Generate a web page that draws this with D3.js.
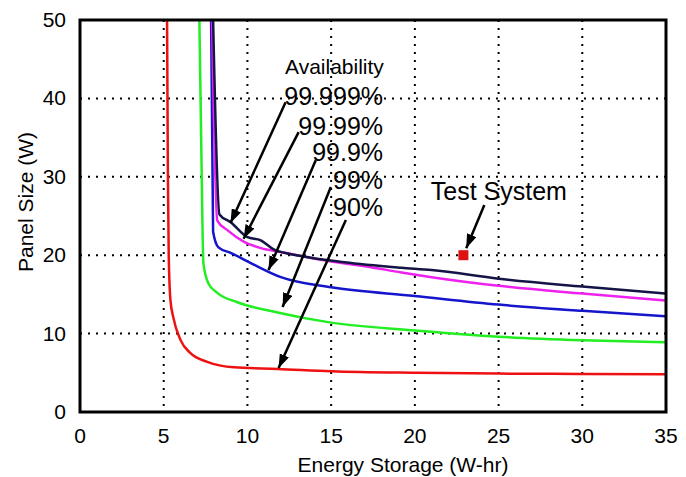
<!DOCTYPE html>
<html>
<head>
<meta charset="utf-8">
<script src="https://cdn.jsdelivr.net/npm/d3@7"></script>
<style>
  body { margin: 0; background: #fff; }
  text { font-family: "Liberation Sans", Arial, sans-serif; fill: #000; }
</style>
</head>
<body>
<svg width="686" height="477"></svg>
<script>
// axis ticks
var xTicks = [0, 5, 10, 15, 20, 25, 30, 35];
var yTicks = [0, 10, 20, 30, 40, 50];

// availability curves (energy storage W-hr, panel size W)
var x90 = [5.2, 5.25, 5.3, 5.4, 5.57, 6.0, 6.6, 7.6, 9.2, 11.8, 15, 20, 25, 30, 35];
var y90 = [50, 30, 20, 14.3, 12.1, 9.2, 7.5, 6.4, 5.7, 5.5, 5.2, 5.0, 4.9, 4.85, 4.8];

var x99 = [7.13, 7.25, 7.37, 7.67, 8.2, 9.4, 11.8, 15, 20, 25, 30, 35];
var y99 = [50, 33, 19, 16.4, 15.2, 14.0, 12.7, 11.4, 10.4, 9.6, 9.15, 8.9];

var x999 = [7.83, 7.95, 8.27, 9.0, 10.2, 12, 15, 20, 25, 30, 35];
var y999 = [50, 23, 21.0, 20.3, 19.0, 17.2, 15.9, 14.8, 13.7, 12.9, 12.2];

var x9999 = [7.89, 8.2, 8.8, 9.8, 10.8, 12, 15, 17, 19.2, 21, 25, 30, 35];
var y9999 = [50, 24.4, 23.2, 21.7, 20.9, 20.4, 19.2, 18.6, 17.8, 17.2, 16.1, 15.1, 14.2];

var x99999 = [7.95, 8.33, 9.0, 10.0, 10.8, 11.6, 13.2, 15.8, 19.2, 21, 25, 30, 35];
var y99999 = [50, 25.2, 24.2, 22.3, 21.9, 20.7, 19.9, 19.1, 18.4, 18.1, 17.0, 16.0, 15.1];

var seriesLabels = ['99.999%', '99.99%', '99.9%', '99%', '90%'];
var seriesColors = ['#141446', '#ee22ee', '#1515cc', '#22ee22', '#ee1111'];

// test system point
var testX = 22.9;
var testY = 20;

var width = 686;
var height = 477;
var margin = { top: 20, right: 20, bottom: 65, left: 80 };

var svg = d3.select('svg');

var x = d3.scaleLinear()
	.domain([0, 35])
	.range([margin.left, width - margin.right]);

var y = d3.scaleLinear()
	.domain([0, 50])
	.range([height - margin.bottom, margin.top]);

// dotted grid
svg.append('g')
	.selectAll('line')
	.data(xTicks.slice(1, -1))
	.join('line')
	.attr('x1', d => x(d)).attr('x2', d => x(d))
	.attr('y1', y(50)).attr('y2', y(0))
	.attr('stroke', '#000')
	.attr('stroke-width', 2)
	.attr('stroke-dasharray', '2,6');

svg.append('g')
	.selectAll('line')
	.data(yTicks.slice(1, -1))
	.join('line')
	.attr('x1', x(0)).attr('x2', x(35))
	.attr('y1', d => y(d)).attr('y2', d => y(d))
	.attr('stroke', '#000')
	.attr('stroke-width', 2)
	.attr('stroke-dasharray', '2,6');

// tick labels
svg.append('g')
	.selectAll('text')
	.data(xTicks)
	.join('text')
	.attr('x', d => x(d))
	.attr('y', y(0) + 31)
	.attr('text-anchor', 'middle')
	.style('font-size', '21px')
	.text(d => d);

svg.append('g')
	.selectAll('text')
	.data(yTicks)
	.join('text')
	.attr('x', x(0) - 14)
	.attr('y', d => y(d) + 7)
	.attr('text-anchor', 'end')
	.style('font-size', '21px')
	.text(d => d);

// axis titles
svg.append('text')
	.attr('x', 403)
	.attr('y', 472)
	.attr('text-anchor', 'middle')
	.style('font-size', '21px')
	.text('Energy Storage (W-hr)');

svg.append('text')
	.attr('transform', 'translate(33,202) rotate(-90)')
	.attr('text-anchor', 'middle')
	.style('font-size', '21px')
	.text('Panel Size (W)');

// curves
var line = d3.line()
	.x(d => x(d[0]))
	.y(d => y(d[1]))
	.curve(d3.curveMonotoneX);

var series = [
	d3.zip(x90, y90),
	d3.zip(x99, y99),
	d3.zip(x999, y999),
	d3.zip(x9999, y9999),
	d3.zip(x99999, y99999)
];
var order = [4, 3, 2, 1, 0];

svg.append('clipPath').attr('id', 'plot')
	.append('rect')
	.attr('x', x(0)).attr('y', y(50))
	.attr('width', x(35) - x(0)).attr('height', y(0) - y(50));

svg.append('g')
	.attr('clip-path', 'url(#plot)')
	.selectAll('path')
	.data(series)
	.join('path')
	.attr('d', line)
	.attr('fill', 'none')
	.attr('stroke', (d, i) => seriesColors[order[i]])
	.attr('stroke-width', 2.5);

// frame
svg.append('rect')
	.attr('x', x(0)).attr('y', y(50))
	.attr('width', x(35) - x(0)).attr('height', y(0) - y(50))
	.attr('fill', 'none')
	.attr('stroke', '#000')
	.attr('stroke-width', 3);

// test system marker
svg.append('rect')
	.attr('x', x(testX) - 5).attr('y', y(testY) - 5)
	.attr('width', 10).attr('height', 10)
	.attr('fill', '#dd1111');

// arrows
svg.append('defs').append('marker')
	.attr('id', 'head')
	.attr('viewBox', '0 0 14 10')
	.attr('refX', 14).attr('refY', 5)
	.attr('markerWidth', 14).attr('markerHeight', 10)
	.attr('markerUnits', 'userSpaceOnUse')
	.attr('orient', 'auto')
	.append('path')
	.attr('d', 'M0,0L14,5L0,10Z')
	.attr('fill', '#000');

var arrowFrom = [[12.28, 39.5], [13.06, 35.7], [14.08, 32.1], [14.98, 28.7], [15.88, 24.5], [24.15, 26.4]];
var arrowTo = [[8.99, 24.1], [9.77, 22.1], [11.26, 18.1], [12.1, 13.4], [11.86, 5.6], [23.07, 20.9]];

svg.append('g')
	.selectAll('line')
	.data(d3.zip(arrowFrom, arrowTo))
	.join('line')
	.attr('x1', d => x(d[0][0])).attr('y1', d => y(d[0][1]))
	.attr('x2', d => x(d[1][0])).attr('y2', d => y(d[1][1]))
	.attr('stroke', '#000')
	.attr('stroke-width', 2.5)
	.attr('marker-end', 'url(#head)');

// labels
var labelY = [39.1, 35.3, 32.0, 28.4, 25.0];

svg.append('text')
	.attr('x', x(18.15)).attr('y', y(43.1))
	.attr('text-anchor', 'end')
	.style('font-size', '21px')
	.text('Availability');

svg.append('g')
	.selectAll('text')
	.data(seriesLabels)
	.join('text')
	.attr('x', x(18.1))
	.attr('y', (d, i) => y(labelY[i]))
	.attr('text-anchor', 'end')
	.style('font-size', '25px')
	.text(d => d);

svg.append('text')
	.attr('x', x(20.95)).attr('y', y(27.0))
	.attr('text-anchor', 'start')
	.style('font-size', '25px')
	.text('Test System');
</script>
</body>
</html>
